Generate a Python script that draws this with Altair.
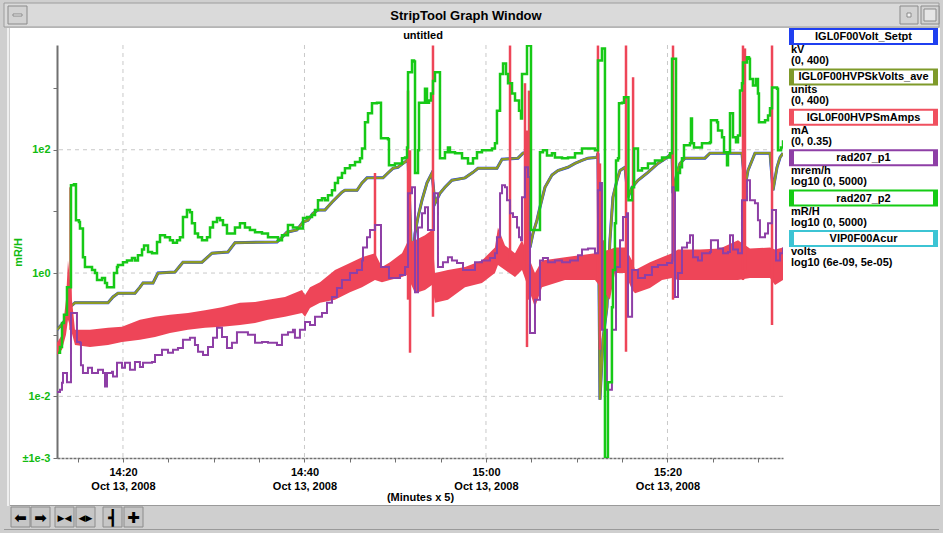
import altair as alt
import pandas as pd

FONT = "Liberation Sans"
ICON_FONT = "DejaVu Sans"
OX, OY = 57, 45          # plot origin inside the 943x533 window
W, H = 726, 413

# ---------------- data: (minutes after 14:00, Oct 13 2008 ; value on the mR/H log axis)
volt_setpt = [(12.73,0.12),(13.39,0.155),(13.83,0.195),(14.16,0.28),(14.71,0.33),(18.35,0.33),(18.9,0.41),(19.45,0.47),(21.32,0.47),(21.87,0.59),(22.21,0.69),(23.31,0.69),(23.86,1.0),(25.73,1.04),(26.61,1.5),(28.71,1.5),(29.81,2.1),(31.57,2.2),(32.34,3.1),(36.97,3.2),(37.52,3.8),(38.07,4.6),(39.17,5.0),(39.84,6.7),(40.39,7.2),(40.94,9.3),(41.49,10.5),(42.26,10.5),(43.03,14.1),(44.13,20.5),(44.46,22),(45.79,22),(46.34,29),(46.89,35),(48.65,35),(49.2,42),(49.75,50),(50.3,52),(50.86,60),(51.3,67),(51.41,73),(51.85,1.12),(52.18,4.4),(52.51,8.1),(52.95,15.2),(53.5,29),(54.05,42),(54.38,13.5),(54.93,19.7),(55.48,24.6),(56.25,32),(57.69,35),(58.57,43),(59.12,50),(61.21,50),(61.77,70),(63.53,73),(64.08,88),(64.52,91),(64.85,2.6),(65.18,4.4),(65.62,7.2),(65.95,11.7),(66.5,24.6),(67.27,39),(67.93,46),(69.04,52),(69.81,60),(70.58,67),(71.24,73),(72.23,75),(72.34,88),(72.56,0.0088),(72.89,0.083),(73.33,0.28),(73.66,3.4),(73.99,17),(74.44,32),(74.77,46),(75.32,52),(75.65,17),(76.1,24.6),(76.75,32),(77.85,43),(78.95,60),(79.95,75),(80.5,88),(80.61,19.7),(81.05,42),(81.38,60),(81.93,73),(84.13,73),(84.68,88),(88.21,88),(88.54,24.6),(88.87,46),(89.64,88),(91.3,88),(91.63,22),(92.07,52),(92.4,75),(92.73,88)]

# the read-back tracks the set point to within a pixel
kvolts_ave = list(volt_setpt)

rad207_p1 = [(12.73,0.0118),(13.06,0.0128),(13.28,0.0166),(13.39,0.024),(13.72,0.024),(13.83,0.017),(14.16,0.017),(14.27,0.225),(14.71,0.225),(14.93,0.076),(15.26,0.074),(15.37,0.032),(15.59,0.024),(16.14,0.029),(16.59,0.024),(17.25,0.027),(17.8,0.024),(18.02,0.0144),(18.24,0.024),(18.79,0.025),(18.9,0.021),(19.34,0.035),(19.89,0.029),(20.22,0.035),(20.77,0.027),(21.32,0.036),(21.87,0.030),(22.21,0.035),(23.2,0.036),(23.53,0.047),(24.3,0.057),(24.96,0.051),(25.51,0.057),(26.06,0.061),(26.61,0.083),(27.38,0.089),(27.93,0.068),(28.27,0.053),(28.82,0.047),(29.37,0.063),(29.92,0.089),(30.36,0.13),(30.91,0.092),(31.46,0.061),(32.01,0.074),(32.56,0.11),(33.11,0.11),(33.77,0.10),(34.55,0.074),(35.32,0.076),(35.98,0.074),(36.97,0.068),(37.52,0.10),(38.18,0.11),(38.73,0.12),(38.95,0.089),(39.5,0.12),(40.06,0.16),(40.61,0.144),(41.16,0.195),(41.93,0.225),(42.48,0.33),(43.03,0.41),(43.58,0.57),(44.13,0.77),(45.01,1.0),(45.79,1.12),(46.34,1.6),(46.45,2.6),(46.89,3.8),(47.22,5.0),(47.77,6.0),(48.32,6.0),(48.43,1.25),(49.2,1.25),(49.31,0.83),(49.97,0.83),(50.52,0.93),(51.08,1.25),(51.41,19.7),(51.85,24.6),(52.07,24.6),(52.18,0.49),(52.51,5.5),(52.95,9.3),(53.28,11.7),(53.61,5.0),(54.05,5.0),(54.27,19.7),(54.6,19.7),(54.71,1.25),(55.26,1.5),(55.81,1.8),(56.25,1.6),(56.81,1.45),(57.47,1.12),(58.24,1.12),(58.79,1.5),(59.56,1.6),(60.44,1.75),(60.99,2.1),(61.21,3.8),(61.55,19.7),(61.77,26.5),(62.1,24.6),(62.32,15.2),(62.65,9.3),(62.98,8.1),(63.42,5.5),(63.64,3.8),(63.86,3.4),(63.97,17),(64.3,52),(64.63,36),(64.85,0.107),(65.18,0.107),(65.4,0.37),(65.95,1.6),(66.28,1.75),(66.83,1.5),(67.6,1.6),(68.38,1.5),(69.26,1.6),(70.14,1.95),(70.58,2.4),(71.24,2.5),(72.01,2.1),(72.23,2.1),(72.34,22),(72.56,29),(72.78,0.12),(73.33,0.0128),(73.66,0.0128),(73.88,0.12),(74.1,0.12),(74.33,1.25),(74.77,3.4),(75.1,8.1),(75.54,9.3),(75.65,0.195),(76.0,0.195),(76.1,1.12),(76.43,1.12),(76.75,0.83),(77.52,0.93),(78.29,1.25),(78.95,1.35),(79.95,1.45),(80.5,1.6),(80.55,24.6),(80.72,24.6),(80.83,0.41),(81.16,1.0),(81.6,2.6),(82.15,3.1),(82.48,4.1),(82.7,4.1),(82.81,1.8),(83.36,1.6),(83.8,2.1),(84.68,2.2),(84.79,3.4),(85.46,3.4),(85.57,2.5),(86.12,2.1),(86.67,2.2),(86.89,4.1),(87.11,4.1),(87.22,2.4),(87.77,2.1),(88.21,15.2),(88.76,32),(88.98,32),(89.09,15.2),(89.64,13.5),(89.97,7.2),(90.19,3.8),(90.75,4.4),(91.08,6.4),(91.52,10.5),(91.85,10.5),(91.96,1.6),(92.4,2.1),(92.73,2.6)]

rad207_p2 = [(12.84,0.051),(13.06,0.063),(13.28,0.155),(13.5,0.21),(13.83,0.59),(14.16,0.59),(14.27,26.5),(14.6,27.5),(14.82,7.2),(15.15,6.7),(15.26,5.3),(15.59,1.8),(15.81,1.25),(16.36,1.25),(16.59,1.12),(16.92,1.0),(17.14,0.77),(17.47,0.77),(17.69,0.83),(18.02,0.69),(18.24,0.59),(18.79,0.59),(19.01,1.0),(19.34,1.25),(19.45,1.35),(20.0,1.5),(20.44,1.6),(20.99,1.75),(21.32,1.6),(21.65,1.95),(22.1,2.4),(22.32,2.8),(22.76,2.2),(23.2,2.1),(23.53,2.1),(23.75,3.2),(24.08,4.1),(24.63,3.8),(25.18,3.4),(25.51,3.1),(25.95,3.4),(26.28,3.8),(26.61,8.1),(27.05,10.5),(27.38,9.7),(27.6,6.4),(27.93,4.4),(28.27,3.8),(28.71,3.4),(29.26,3.8),(29.59,5.5),(29.92,6.7),(30.36,7.8),(30.69,7.2),(31.02,6.0),(31.46,4.4),(31.79,4.4),(32.34,5.5),(32.89,6.4),(33.44,5.5),(33.99,5.0),(34.55,4.6),(35.32,4.4),(35.98,3.8),(37.08,3.4),(37.52,4.1),(38.18,6.0),(38.73,5.5),(39.17,5.3),(39.84,7.8),(40.28,8.1),(40.83,8.7),(41.16,10.5),(41.49,15.2),(41.93,16.3),(42.26,15.2),(42.59,18.3),(43.03,22),(43.36,29),(43.69,35),(44.13,42),(44.46,50),(45.01,56),(45.57,63),(46.12,73),(46.34,105),(46.67,280),(47.0,390),(47.44,570),(47.99,580),(48.32,580),(48.43,153),(49.2,148),(49.31,56),(49.97,60),(50.75,73),(51.08,75),(51.3,109),(51.41,1800),(51.85,2800),(52.07,2700),(52.18,42),(52.51,98),(52.62,580),(53.28,980),(53.5,580),(53.72,630),(53.94,820),(54.16,1300),(54.38,1800),(54.82,1800),(54.93,73),(55.48,91),(55.81,109),(56.03,91),(56.59,88),(57.36,73),(58.02,60),(58.57,73),(59.01,91),(59.56,98),(60.11,98),(60.66,105),(60.99,127),(61.21,430),(61.55,1700),(61.88,2500),(62.21,1700),(62.43,1200),(62.87,820),(63.2,630),(63.64,430),(63.86,320),(63.97,1700),(64.41,1700),(64.52,4900),(64.85,4900),(64.96,5.0),(65.4,5.0),(65.95,91),(66.28,98),(66.72,81),(67.27,88),(67.6,75),(68.38,73),(69.04,75),(69.81,88),(70.58,105),(71.24,105),(72.01,98),(72.34,2800),(72.56,2800),(72.78,4400),(72.89,4400),(73.11,0.001),(73.33,0.001),(73.44,0.017),(73.66,0.017),(73.88,0.28),(73.99,1.12),(74.21,6.4),(74.33,67),(74.55,73),(74.66,570),(74.99,580),(75.21,710),(75.65,710),(75.7,15.2),(76.0,15.2),(76.1,24.6),(76.32,105),(76.65,105),(76.75,46),(77.19,50),(77.85,60),(78.62,67),(79.4,75),(80.28,88),(80.5,3000),(80.83,3000),(80.94,22),(81.16,42),(81.38,52),(81.6,73),(81.82,118),(82.48,127),(82.59,320),(82.7,127),(82.92,109),(83.8,127),(84.68,132),(84.79,300),(85.46,280),(85.57,205),(86.01,160),(86.23,91),(86.56,56),(86.67,91),(86.89,390),(87.11,390),(87.22,160),(87.55,132),(87.77,170),(87.99,910),(88.21,1200),(88.32,2600),(88.76,3150),(88.98,3000),(89.09,1400),(89.42,1100),(89.75,1400),(89.97,820),(90.08,280),(90.75,300),(91.08,360),(91.3,470),(91.52,1020),(92.07,980),(92.18,98),(92.51,109),(92.73,142)]

# mA read-back: noisy band (minutes, low edge, high edge) and isolated spikes
mamps_band = [(12.73,0.047,0.074),(13.28,0.057,0.10),(13.72,0.10,0.37),(13.94,0.174,1.6),(14.27,0.12,0.53),(14.71,0.068,0.12),(16.36,0.063,0.12),(18.35,0.068,0.13),(19.89,0.076,0.134),(21.87,0.083,0.174),(23.53,0.092,0.195),(25.18,0.107,0.21),(27.16,0.12,0.225),(29.04,0.13,0.25),(30.91,0.134,0.28),(32.89,0.144,0.33),(34.55,0.155,0.34),(35.98,0.174,0.37),(37.85,0.195,0.41),(39.73,0.225,0.53),(40.06,0.195,0.44),(40.61,0.27,0.59),(41.71,0.33,0.71),(43.36,0.37,1.12),(45.01,0.49,1.45),(46.34,0.59,1.8),(47.77,0.77,2.1),(48.54,0.71,1.25),(49.42,0.77,1.5),(50.75,0.86,2.1),(51.3,0.93,3.1),(52.18,0.47,3.4),(53.28,0.53,4.1),(54.05,0.64,5.0),(54.38,0.33,1.0),(55.81,0.37,1.12),(57.69,0.59,1.25),(59.56,0.69,1.6),(60.99,1.0,2.6),(61.32,1.35,5.5),(62.1,1.12,2.8),(63.2,0.86,2.1),(63.97,1.12,3.4),(65.4,0.28,1.0),(66.17,0.59,1.6),(68.71,0.77,1.8),(72.01,0.77,2.1),(73.66,0.37,2.4),(74.21,1.0,2.6),(75.32,1.0,2.6),(76.1,0.53,1.6),(76.43,0.47,1.12),(78.07,0.57,1.5),(79.4,0.77,1.8),(80.5,0.83,2.1),(81.16,0.77,2.4),(83.58,0.77,2.4),(85.79,0.77,2.5),(87.77,0.77,3.4),(89.09,0.83,2.5),(91.3,0.83,2.6),(91.85,0.64,2.4),(92.73,0.77,2.6)]
mamps_spikes = [(14.22,0.12,24.6),(47.77,1.6,42),(51.41,0.37,910),(51.63,0.051,98),(54.16,0.195,4900),(62.65,1.6,4900),(64.3,1.6,1200),(64.52,0.063,205),(64.74,0.37,910),(72.34,0.77,4900),(72.56,0.057,60),(72.89,0.12,3.4),(75.43,0.053,4900),(76.21,0.77,1500),(80.61,0.37,4900),(88.32,0.77,4900),(88.54,1.12,4400),(91.52,0.144,4900)]

legend_names = ["IGL0F00Volt_Setpt", "IGL0F00HVPSkVolts_ave", "IGL0F00HVPSmAmps",
                "rad207_p1", "rad207_p2", "VIP0F00Acur"]
legend_units = ["kV", "units", "mA", "mrem/h", "mR/H", "volts"]
legend_ranges = ["(0, 400)", "(0, 400)", "(0, 0.35)", "log10 (0, 5000)",
                 "log10 (0, 5000)", "log10 (6e-09, 5e-05)"]
legend_colors = ["#1f3ff0", "#7f9a2a", "#f0505f", "#8e3fa6", "#14cc14", "#3cc4d4"]

x_ticks = [15, 20, 25, 30, 35, 40, 45, 50, 55, 60, 65, 70, 75, 80, 85, 90]
x_major = [20, 40, 60, 80]
y_ticks = [0.001, 0.01, 0.1, 1, 10, 100, 1000]
y_grid = [0.01, 1, 100]

toolbar_icons = ["⬅", "➡", "▶◀", "◀▶", "┫", "✚"]
toolbar_x = [11, 31, 55, 76, 103, 124]

# ---------------- helpers
ONE = pd.DataFrame({"d": [0]})
BLUE, OLIVE, RED, PURPLE, GREEN = "#1f3cf5", "#8c9a26", "#ee4558", "#8e3fa6", "#16c916"
AXIS_GREEN = "#11bb11"
CHROME = "#cfcfcf"


def rect(x1, y1, x2, y2, fill, stroke=None, sw=0):
    kw = dict(fill=fill, strokeWidth=sw)
    if stroke:
        kw["stroke"] = stroke
    return alt.Chart(ONE).mark_rect(**kw).encode(
        x=alt.value(x1 - OX), x2=alt.value(x2 - OX),
        y=alt.value(y1 - OY), y2=alt.value(y2 - OY))


def text(x, y, s, size=11, color="#000000", align="center", weight="bold", font=FONT):
    return alt.Chart(ONE).mark_text(
        text=s, font=font, fontSize=size, fontWeight=weight, color=color,
        align=align, baseline="middle").encode(x=alt.value(x - OX), y=alt.value(y - OY))


def frame(pairs):
    return pd.DataFrame({"i": list(range(len(pairs))),
                         "m": [p[0] for p in pairs], "v": [p[1] for p in pairs]})


xs = alt.Scale(domain=[12.73, 92.73], nice=False, zero=False)
ys = alt.Scale(type="log", domain=[0.001, 5000], nice=False)

x_axis = alt.Axis(
    values=x_ticks, grid=False,
    labelExpr="datum.value % 20 == 0 ? [(datum.value < 60 ? '14:' : '15:') + "
              "(datum.value % 60 == 0 ? '00' : '' + (datum.value % 60)), 'Oct 13, 2008'] : ''",
    labelFont=FONT, labelFontSize=11, labelFontWeight="bold", labelColor="#000000",
    labelBaseline="top", labelPadding=4, labelLineHeight=14, labelOverlap=False, labelFlush=False,
    domainColor="#707070", domainWidth=1.5, domainDash=[3, 1], tickColor="#707070", tickSize=4, tickWidth=1,
    title="(Minutes x 5)", titleFont=FONT, titleFontSize=11, titleFontWeight="bold",
    titleColor="#000000", titleX=363, titleY=39, titleAlign="center", titleBaseline="middle")

y_axis = alt.Axis(
    values=y_ticks, grid=False,
    labelExpr="datum.value > 50 && datum.value < 200 ? '1e2' : "
              "(datum.value > 0.5 && datum.value < 2 ? '1e0' : "
              "(datum.value > 0.005 && datum.value < 0.02 ? '1e-2' : "
              "(datum.value < 0.002 ? '±1e-3' : '')))",
    labelFont=FONT, labelFontSize=11, labelFontWeight="bold", labelColor=AXIS_GREEN,
    labelPadding=3, labelOverlap=False, labelFlush=False,
    domainColor="#707070", domainWidth=2, tickColor="#707070", tickSize=4, tickWidth=1,
    title="mR/H", titleFont=FONT, titleFontSize=11, titleFontWeight="bold",
    titleColor=AXIS_GREEN, titleAngle=270, titleX=-39, titleY=207,
    titleAlign="center", titleBaseline="middle")


def curve(pairs, color, width, interp="linear"):
    return alt.Chart(frame(pairs)).mark_line(
        color=color, strokeWidth=width, clip=True, interpolate=interp).encode(
        x=alt.X("m:Q", scale=xs, axis=x_axis),
        y=alt.Y("v:Q", scale=ys, axis=y_axis),
        order="i:Q")


layers = []

# window chrome (grey frame around the white drawing area)
layers.append(rect(0, 0, 943, 28, CHROME))
layers.append(rect(0, 505, 943, 533, CHROME))
layers.append(rect(0, 0, 10, 533, CHROME))
layers.append(rect(940, 0, 943, 533, CHROME))
layers.append(rect(4, 3, 939, 27, "#dadada", "#9c9c9c", 1))
layers.append(rect(8, 6, 27, 24, "#d2d2d2", "#8a8a8a", 1))
layers.append(rect(13, 14, 22, 16, "#f4f4f4", "#8a8a8a", 1))
layers.append(rect(900, 6, 918, 24, "#d2d2d2", "#8a8a8a", 1))
layers.append(rect(907, 13, 911, 17, "#f4f4f4", "#8a8a8a", 1))
layers.append(rect(921, 6, 939, 24, "#d2d2d2", "#8a8a8a", 1))
layers.append(rect(924, 9, 936, 21, "#e6e6e6", "#8a8a8a", 1))
layers.append(text(466, 16, "StripTool Graph Window", size=13))
layers.append(rect(7, 28, 9, 506, "#efefef"))
layers.append(rect(10, 505, 940, 506, "#9a9a9a"))
layers.append(rect(4, 529, 939, 530, "#9a9a9a"))
for bx, icon in zip(toolbar_x, toolbar_icons):
    layers.append(rect(bx, 507, bx + 19, 527, "#c6c6c6", "#8c8c8c", 1))
    layers.append(text(bx + 9.5, 517.5, icon, size=15 if len(icon) == 1 else 9, font=ICON_FONT))

# dashed grid lines
layers.append(alt.Chart(pd.DataFrame({"m": x_major})).mark_rule(
    color="#c9c9c9", strokeDash=[4, 4], strokeWidth=1).encode(
    x=alt.X("m:Q", scale=xs, axis=x_axis)))
layers.append(alt.Chart(pd.DataFrame({"v": y_grid})).mark_rule(
    color="#c9c9c9", strokeDash=[4, 4], strokeWidth=1).encode(
    y=alt.Y("v:Q", scale=ys, axis=y_axis)))

# curves
layers.append(curve(volt_setpt, BLUE, 3))
layers.append(curve(kvolts_ave, OLIVE, 2.4))
band = pd.DataFrame({"m": [b[0] for b in mamps_band], "lo": [b[1] for b in mamps_band],
                     "hi": [b[2] for b in mamps_band]})
layers.append(alt.Chart(band).mark_area(color=RED, clip=True, opacity=1).encode(
    x=alt.X("m:Q", scale=xs, axis=x_axis),
    y=alt.Y("lo:Q", scale=ys, axis=y_axis), y2="hi:Q"))
spikes = pd.DataFrame({"m": [s[0] for s in mamps_spikes], "lo": [s[1] for s in mamps_spikes],
                       "hi": [s[2] for s in mamps_spikes]})
layers.append(alt.Chart(spikes).mark_rule(color=RED, strokeWidth=2.5, clip=True).encode(
    x=alt.X("m:Q", scale=xs, axis=x_axis),
    y=alt.Y("lo:Q", scale=ys, axis=y_axis), y2="hi:Q"))
layers.append(curve(rad207_p1, PURPLE, 2, "step-after"))
layers.append(curve(rad207_p2, GREEN, 2.5, "step-after"))

# strip title
layers.append(text(423, 36, "untitled", size=11))

# legend panel
for i, (name, unit, rng, col) in enumerate(zip(legend_names, legend_units, legend_ranges, legend_colors)):
    top = 29 + 40.4 * i
    layers.append(rect(790, top, 937, top + 15, "#ffffff", col, 2))
    layers.append(rect(790, top, 794, top + 15, col))
    layers.append(rect(933, top, 937, top + 15, col))
    layers.append(text(863.5, top + 8, name, size=11))
    layers.append(text(791, top + 21, unit, size=11, align="left"))
    layers.append(text(791, top + 32, rng, size=11, align="left"))

chart = alt.layer(*layers).properties(
    width=W, height=H,
    autosize=alt.AutoSizeParams(type="none"),
    padding={"left": OX, "top": OY, "right": 943 - OX - W, "bottom": 533 - OY - H},
    background="#ffffff",
).configure_view(strokeWidth=0)

chart.save("out.html", embed_options={"renderer": "svg", "actions": False})
